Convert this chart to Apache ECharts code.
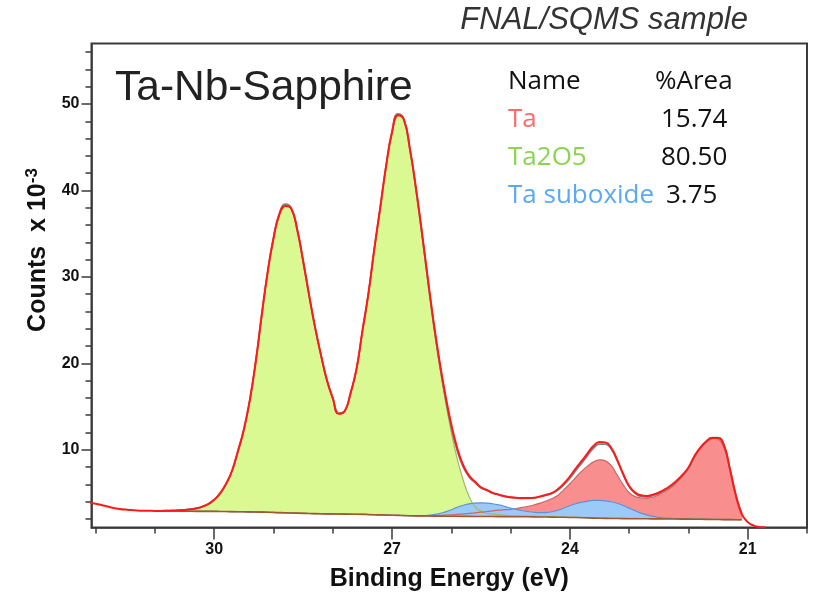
<!DOCTYPE html>
<html>
<head>
<meta charset="utf-8">
<script src="https://cdn.jsdelivr.net/npm/echarts@6/dist/echarts.min.js"></script>
<style>
  html, body { margin: 0; padding: 0; background: #ffffff; }
  #chart { width: 821px; height: 598px; }
</style>
</head>
<body>
<div id="chart"></div>
<script>
// Ta 4f region, binding energy in eV, counts in units of 10^3

// full measured window (envelope line)
const energy = [
  32.1, 32.0, 31.9, 31.8, 31.7, 31.6, 31.5, 31.4, 31.3, 31.2, 31.1, 31.0,
  30.9, 30.8, 30.7, 30.6, 30.5, 30.4, 30.3, 30.2, 30.1, 30.0,
  29.9, 29.8, 29.7, 29.6, 29.5, 29.4, 29.3, 29.2, 29.1, 29.0,
  28.9, 28.8, 28.7, 28.6, 28.5, 28.4, 28.3, 28.2, 28.1, 28.0,
  27.9, 27.8, 27.7, 27.6, 27.5, 27.4, 27.3, 27.2, 27.1, 27.0,
  26.9, 26.8, 26.7, 26.6, 26.5, 26.4, 26.3, 26.2, 26.1, 26.0,
  25.9, 25.8, 25.7, 25.6, 25.5, 25.4, 25.3, 25.2, 25.1, 25.0,
  24.9, 24.8, 24.7, 24.6, 24.5, 24.4, 24.3, 24.2, 24.1, 24.0,
  23.9, 23.8, 23.7, 23.6, 23.5, 23.4, 23.3, 23.2, 23.1, 23.0,
  22.9, 22.8, 22.7, 22.6, 22.5, 22.4, 22.3, 22.2, 22.1, 22.0,
  21.9, 21.8, 21.7, 21.6, 21.5, 21.4, 21.3, 21.2, 21.1,
  21.0, 20.9, 20.8, 20.7
];
const envelope = [
  3.88, 3.75, 3.60, 3.42, 3.26, 3.15, 3.07, 3.02, 2.98, 2.95, 2.93, 2.92,
  2.92, 2.94, 2.96, 2.99, 3.03, 3.10, 3.22, 3.42, 3.71, 4.21,
  4.95, 6.05, 7.54, 9.83, 12.32, 15.71, 20.15, 25.48, 30.46, 34.44,
  37.22, 38.20, 37.88, 35.46, 31.84, 27.92, 24.21, 20.99, 18.08, 15.97,
  14.16, 14.45, 16.54, 19.33, 23.72, 28.00, 33.18, 37.96, 42.84, 46.72,
  48.70, 48.18, 44.86, 40.45, 35.37, 30.01, 24.84, 20.29, 16.33, 12.92,
  10.17, 8.20, 7.00, 6.30, 5.65, 5.35, 5.00, 4.80, 4.62, 4.50,
  4.43, 4.40, 4.40, 4.45, 4.60, 4.78, 5.00, 5.45, 6.10, 6.90,
  7.85, 8.70, 9.60, 10.45, 10.90, 10.85, 10.20, 8.80, 7.20, 5.80,
  5.05, 4.72, 4.65, 4.80, 5.05, 5.40, 5.85, 6.40, 7.10, 7.95,
  9.25, 10.25, 10.95, 11.35, 11.35, 10.50, 7.75, 4.70, 2.55,
  1.62, 1.22, 1.06, 1.02
];

// fitted region
const fitEnergy = [
  30.9, 30.8, 30.7, 30.6, 30.5, 30.4, 30.3, 30.2, 30.1, 30.0,
  29.9, 29.8, 29.7, 29.6, 29.5, 29.4, 29.3, 29.2, 29.1, 29.0,
  28.9, 28.8, 28.7, 28.6, 28.5, 28.4, 28.3, 28.2, 28.1, 28.0,
  27.9, 27.8, 27.7, 27.6, 27.5, 27.4, 27.3, 27.2, 27.1, 27.0,
  26.9, 26.8, 26.7, 26.6, 26.5, 26.4, 26.3, 26.2, 26.1, 26.0,
  25.9, 25.8, 25.7, 25.6, 25.5, 25.4, 25.3, 25.2, 25.1, 25.0,
  24.9, 24.8, 24.7, 24.6, 24.5, 24.4, 24.3, 24.2, 24.1, 24.0,
  23.9, 23.8, 23.7, 23.6, 23.5, 23.4, 23.3, 23.2, 23.1, 23.0,
  22.9, 22.8, 22.7, 22.6, 22.5, 22.4, 22.3, 22.2, 22.1, 22.0,
  21.9, 21.8, 21.7, 21.6, 21.5, 21.4, 21.3, 21.2, 21.1
];
// raw counts over the fitted region
const counts = [
  2.92, 2.94, 2.96, 2.99, 3.03, 3.10, 3.22, 3.42, 3.71, 4.21,
  4.95, 6.05, 7.54, 9.83, 12.32, 15.71, 20.15, 25.48, 30.46, 34.50,
  37.35, 38.40, 37.95, 35.50, 31.84, 27.92, 24.21, 20.99, 18.08, 15.97,
  14.20, 14.45, 16.54, 19.33, 23.72, 28.00, 33.18, 37.96, 42.84, 46.80,
  48.85, 48.25, 44.80, 40.30, 35.20, 29.80, 24.60, 20.00, 16.00, 12.60,
  9.90, 8.00, 6.85, 6.20, 5.60, 5.30, 4.98, 4.78, 4.60, 4.48,
  4.41, 4.38, 4.38, 4.43, 4.57, 4.74, 4.95, 5.35, 5.95, 6.70,
  7.60, 8.45, 9.35, 10.20, 10.65, 10.65, 10.05, 8.70, 7.10, 5.70,
  4.95, 4.60, 4.55, 4.70, 4.95, 5.30, 5.75, 6.30, 7.00, 7.85,
  9.15, 10.20, 10.95, 11.40, 11.40, 10.50, 7.80, 4.75, 2.60
];
// Shirley-type background under the peaks
const background = [
  2.90, 2.90, 2.89, 2.89, 2.88, 2.88, 2.87, 2.87, 2.86, 2.86,
  2.85, 2.85, 2.84, 2.83, 2.82, 2.81, 2.80, 2.78, 2.76, 2.74,
  2.72, 2.70, 2.68, 2.66, 2.64, 2.62, 2.61, 2.59, 2.58, 2.57,
  2.56, 2.55, 2.54, 2.53, 2.52, 2.50, 2.48, 2.46, 2.44, 2.42,
  2.40, 2.38, 2.36, 2.35, 2.34, 2.33, 2.32, 2.31, 2.31, 2.30,
  2.30, 2.29, 2.29, 2.28, 2.28, 2.27, 2.27, 2.26, 2.26, 2.25,
  2.25, 2.24, 2.24, 2.23, 2.22, 2.21, 2.20, 2.19, 2.18, 2.16,
  2.15, 2.13, 2.11, 2.09, 2.07, 2.06, 2.05, 2.04, 2.03, 2.02,
  2.02, 2.01, 2.01, 2.00, 2.00, 1.99, 1.99, 1.98, 1.97, 1.97,
  1.96, 1.95, 1.94, 1.93, 1.92, 1.91, 1.91, 1.90, 1.90
];
// component intensities above the background
const ta2o5 = [
  0.02, 0.04, 0.07, 0.10, 0.15, 0.22, 0.35, 0.55, 0.85, 1.35,
  2.10, 3.20, 4.70, 7.00, 9.50, 12.90, 17.35, 22.70, 27.70, 31.70,
  34.50, 35.50, 35.20, 32.80, 29.20, 25.30, 21.60, 18.40, 15.50, 13.40,
  11.60, 11.90, 14.00, 16.80, 21.20, 25.50, 30.70, 35.50, 40.40, 44.30,
  46.30, 45.80, 42.50, 38.10, 33.00, 27.60, 22.30, 17.60, 13.40, 9.70,
  6.60, 4.20, 2.30, 1.10, 0.60, 0.38, 0.27, 0.21, 0.17, 0.14,
  0.12, 0.10, 0.09, 0.08, 0.07, 0.06, 0.06, 0.05, 0.05, 0.04,
  0.04, 0.04, 0.04, 0.04, 0.04, 0.04, 0.04, 0.04, 0.03, 0.03,
  0.03, 0.03, 0.03, 0.03, 0.03, 0.03, 0.03, 0.02, 0.02, 0.02,
  0.02, 0.02, 0.02, 0.02, 0.02, 0.02, 0.02, 0.02, 0.02
];
const taMetal = [
  0, 0, 0, 0, 0, 0, 0, 0, 0, 0,
  0, 0, 0, 0, 0, 0, 0, 0, 0, 0,
  0, 0, 0, 0, 0, 0, 0, 0, 0, 0,
  0, 0, 0, 0, 0, 0, 0, 0, 0, 0,
  0, 0, 0, 0, 0, 0, 0.05, 0.08, 0.12, 0.17,
  0.22, 0.28, 0.35, 0.42, 0.50, 0.58, 0.66, 0.74, 0.80, 0.85,
  0.95, 1.08, 1.22, 1.40, 1.60, 1.85, 2.15, 2.55, 3.20, 3.90,
  4.65, 5.40, 6.00, 6.50, 6.75, 6.65, 6.10, 5.00, 3.90, 3.00,
  2.55, 2.40, 2.40, 2.50, 2.80, 3.15, 3.60, 4.20, 5.00, 5.90,
  7.20, 8.20, 8.90, 9.40, 9.35, 8.30, 5.80, 2.70, 0.60
];
const taSuboxide = [
  0, 0, 0, 0, 0, 0, 0, 0, 0, 0,
  0, 0, 0, 0, 0, 0, 0, 0, 0, 0,
  0, 0, 0, 0, 0, 0, 0, 0, 0, 0,
  0, 0, 0, 0, 0, 0, 0, 0, 0, 0,
  0, 0, 0, 0, 0.03, 0.08, 0.17, 0.30, 0.50, 0.75,
  1.05, 1.28, 1.45, 1.55, 1.58, 1.56, 1.48, 1.35, 1.18, 1.00,
  0.83, 0.70, 0.60, 0.53, 0.50, 0.52, 0.62, 0.80, 1.08, 1.35,
  1.60, 1.80, 1.95, 2.05, 2.07, 2.03, 1.93, 1.76, 1.52, 1.22,
  0.92, 0.65, 0.43, 0.28, 0.18, 0.11, 0.07, 0.04, 0.03, 0.02,
  0.02, 0.02, 0.01, 0.01, 0.01, 0.01, 0.01, 0.01, 0.01
];

// legend table
const compNames = ['Ta', 'Ta2O5', 'Ta suboxide'];
const compArea = ['15.74', '80.50', '3.75'];
const compText = ['#ff6b6b', '#8cd450', '#5aa9f5'];

// axis ticks
const xLabelTicks = [21, 24, 27, 30];
const xMinorTicks = [20, 21, 22, 23, 24, 25, 26, 27, 28, 29, 30, 31, 32];
const yLabelTicks = [10, 20, 30, 40, 50];
const yMinorTicks = [2, 4, 6, 8, 12, 14, 16, 18, 22, 24, 26, 28, 32, 34, 36, 38, 42, 44, 46, 48, 52, 54, 56];

const X_MIN = 20.0, X_MAX = 32.07, Y_MIN = 1, Y_MAX = 57;
const AXIS_FONT = '"Liberation Sans", Arial, sans-serif';
const TABLE_FONT = '"Open Sans", "Noto Sans", sans-serif';
const SMOOTH = 0.45;

const components = [
  { name: 'Ta2O5', values: ta2o5, fill: '#dbf993', edge: '#a3b76a' },
  { name: 'Ta', values: taMetal, fill: '#f98e8e', edge: '#cf6565' },
  { name: 'Ta suboxide', values: taSuboxide, fill: '#9bcaf9', edge: '#5e92d6' }
];

// filled band between the background and background + component
function bandFill(c) {
  return {
    type: 'custom',
    name: c.name + ' area',
    silent: true,
    clip: true,
    data: [[26, 10]],
    renderItem(params, api) {
      const top = [], base = [];
      for (let i = 0; i < fitEnergy.length; i++) {
        top.push(api.coord([fitEnergy[i], background[i] + c.values[i]]));
        base.push(api.coord([fitEnergy[i], background[i]]));
      }
      return {
        type: 'polyline',
        shape: { points: top.concat(base.reverse()), smooth: SMOOTH },
        style: { fill: c.fill, stroke: null }
      };
    }
  };
}

// outline of each component peak
function bandEdge(c) {
  return {
    type: 'custom',
    name: c.name,
    silent: true,
    clip: true,
    data: [[26, 10]],
    renderItem(params, api) {
      const top = fitEnergy.map((e, i) => api.coord([e, background[i] + c.values[i]]));
      return {
        type: 'polyline',
        shape: { points: top, smooth: SMOOTH },
        style: { fill: null, stroke: c.edge, lineWidth: 1.2 }
      };
    }
  };
}

const series = [];
components.forEach(c => series.push(bandFill(c)));
components.forEach(c => series.push(bandEdge(c)));
series.push({
  type: 'line', name: 'Background', silent: true, symbol: 'none',
  lineStyle: { color: '#a0582e', width: 1.6 },
  data: fitEnergy.map((e, i) => [e, background[i]])
});
series.push({
  type: 'line', name: 'Counts', silent: true, symbol: 'none', smooth: 0.5,
  lineStyle: { color: '#808080', width: 1.8 },
  data: fitEnergy.map((e, i) => [e, counts[i]])
});
series.push({
  type: 'line', name: 'Envelope', silent: true, symbol: 'none', smooth: 0.5,
  lineStyle: { color: '#ff1a1a', width: 2 },
  data: energy.map((e, i) => [e, envelope[i]])
});

const axisTextStyle = { fontFamily: AXIS_FONT, fontWeight: 'bold', fontSize: 16, color: '#111' };

const graphic = [
  {
    type: 'text', left: 115, top: 67,
    style: { text: 'Ta-Nb-Sapphire', font: '42.5px "Liberation Sans", Arial, sans-serif', fill: '#222' }
  },
  {
    type: 'text', right: 73, top: 5,
    style: { text: 'FNAL/SQMS sample', font: 'italic 31px "Liberation Sans", Arial, sans-serif', fill: '#333' }
  },
  {
    type: 'text', x: 38, y: 250, rotation: Math.PI / 2,
    style: {
      text: 'Counts  x 10{sup|-3}',
      fontFamily: AXIS_FONT, fontWeight: 'bold', fontSize: 25, fill: '#111',
      align: 'center', verticalAlign: 'middle',
      rich: { sup: { fontFamily: AXIS_FONT, fontWeight: 'bold', fontSize: 17, fill: '#111', verticalAlign: 'top', padding: [0, 0, 12, 0] } }
    }
  },
  {
    type: 'text', left: 508, top: 69,
    style: { text: 'Name', font: '26px ' + TABLE_FONT, fill: '#111' }
  },
  {
    type: 'text', left: 655, top: 69,
    style: { text: '%Area', font: '26px ' + TABLE_FONT, fill: '#111' }
  }
];
compNames.forEach((n, i) => {
  graphic.push({
    type: 'text', left: 508, top: 107 + i * 37.8,
    style: { text: n, font: '26px ' + TABLE_FONT, fill: compText[i] }
  });
  graphic.push({
    type: 'text', left: i === 2 ? 666 : 661, top: 107 + i * 37.8,
    style: { text: compArea[i], font: '26px ' + TABLE_FONT, fill: '#111' }
  });
});

const option = {
  animation: false,
  backgroundColor: '#ffffff',
  grid: {
    left: 91.5, right: 14, top: 43.5, bottom: 70.5,
    show: true, borderColor: '#3a3a3a', borderWidth: 2, backgroundColor: 'transparent'
  },
  xAxis: [
    {
      type: 'value', inverse: true, min: X_MIN, max: X_MAX, position: 'bottom',
      name: 'Binding Energy (eV)', nameLocation: 'middle', nameGap: 39,
      nameTextStyle: { fontFamily: AXIS_FONT, fontWeight: 'bold', fontSize: 25, color: '#111' },
      axisLine: { show: true, onZero: false, lineStyle: { color: '#3a3a3a', width: 1.5 } },
      axisTick: { show: true, customValues: xLabelTicks, length: 12, lineStyle: { color: '#3a3a3a', width: 1.5 } },
      axisLabel: Object.assign({ customValues: xLabelTicks, margin: 14 }, axisTextStyle),
      splitLine: { show: false }
    },
    {
      type: 'value', inverse: true, min: X_MIN, max: X_MAX, position: 'bottom',
      axisLine: { show: false, onZero: false },
      axisTick: { show: true, customValues: xMinorTicks, length: 6, lineStyle: { color: '#3a3a3a', width: 1.5 } },
      axisLabel: { show: false },
      splitLine: { show: false }
    }
  ],
  yAxis: [
    {
      type: 'value', min: Y_MIN, max: Y_MAX, position: 'left',
      axisLine: { show: true, onZero: false, lineStyle: { color: '#3a3a3a', width: 1.5 } },
      axisTick: { show: true, customValues: yLabelTicks, length: 10, lineStyle: { color: '#3a3a3a', width: 1.5 } },
      axisLabel: Object.assign({ customValues: yLabelTicks, margin: 12 }, axisTextStyle),
      splitLine: { show: false }
    },
    {
      type: 'value', min: Y_MIN, max: Y_MAX, position: 'left',
      axisLine: { show: false, onZero: false },
      axisTick: { show: true, customValues: yMinorTicks, length: 6, lineStyle: { color: '#3a3a3a', width: 1.5 } },
      axisLabel: { show: false },
      splitLine: { show: false }
    }
  ],
  graphic: graphic,
  series: series
};

const chart = echarts.init(document.getElementById('chart'));
chart.setOption(option);
</script>
</body>
</html>
